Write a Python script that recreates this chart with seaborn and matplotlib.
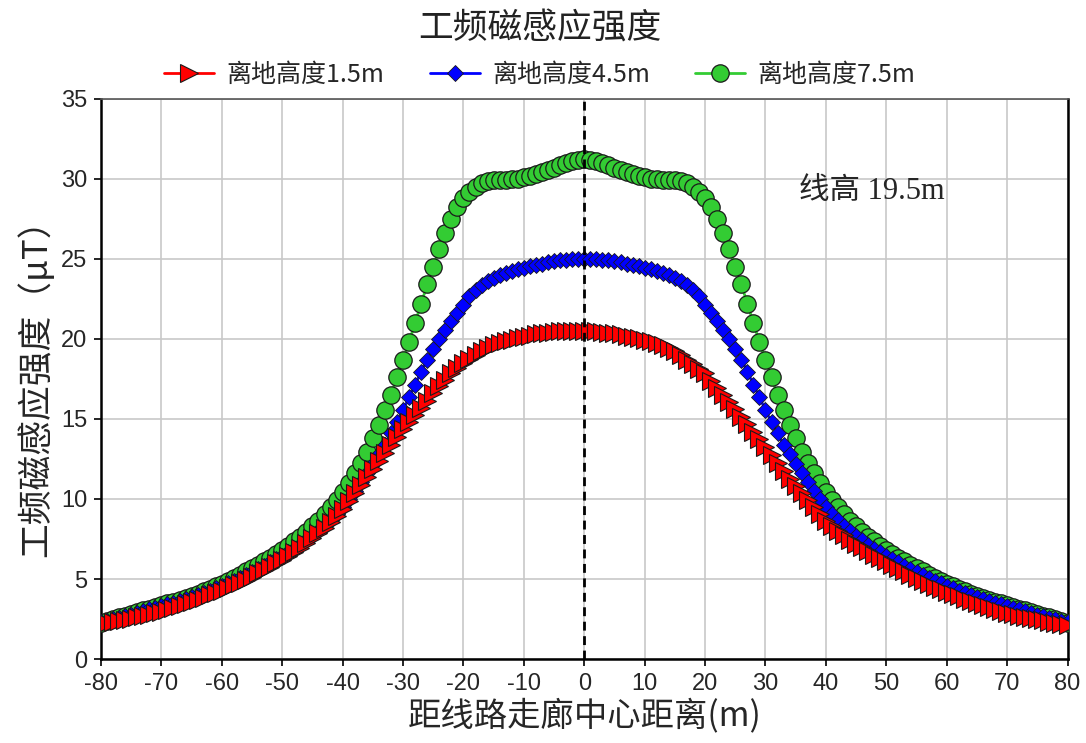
import matplotlib
matplotlib.use("Agg")
import matplotlib.pyplot as plt
import seaborn as sns

# distance from corridor centre (m), one reading per metre
distance = list(range(-80, 81))

# height 1.5 m
b_15 = [
    2.2, 2.26, 2.32, 2.39, 2.46, 2.53, 2.61, 2.69, 2.78, 2.87,
    2.97, 3.08, 3.19, 3.31, 3.43, 3.56, 3.69, 3.83, 3.97, 4.12,
    4.27, 4.43, 4.6, 4.78, 4.96, 5.15, 5.35, 5.55, 5.76, 5.98,
    6.2, 6.45, 6.7, 6.95, 7.25, 7.55, 7.85, 8.2, 8.55, 8.95,
    9.4, 9.85, 10.35, 10.85, 11.35, 11.85, 12.35, 12.85, 13.35, 13.85,
    14.35, 14.8, 15.25, 15.7, 16.15, 16.6, 17.05, 17.45, 17.85, 18.2,
    18.5, 18.75, 18.98, 19.22, 19.42, 19.6, 19.72, 19.84, 19.95, 20.04,
    20.12, 20.2, 20.28, 20.35, 20.4, 20.45, 20.48, 20.5, 20.52, 20.52,
    20.5, 20.5, 20.48, 20.45, 20.4, 20.35, 20.28, 20.2, 20.12, 20.04,
    19.95, 19.84, 19.72, 19.6, 19.42, 19.22, 18.98, 18.7, 18.42, 18.14,
    17.85, 17.4, 16.95, 16.5, 16.05, 15.6, 15.14, 14.67, 14.2, 13.73,
    13.25, 12.75, 12.25, 11.76, 11.27, 10.8, 10.35, 9.92, 9.48, 9.06,
    8.65, 8.33, 8.02, 7.74, 7.46, 7.2, 6.97, 6.74, 6.52, 6.31,
    6.1, 5.89, 5.68, 5.47, 5.26, 5.05, 4.87, 4.7, 4.53, 4.36,
    4.2, 4.05, 3.91, 3.77, 3.63, 3.5, 3.38, 3.26, 3.14, 3.02,
    2.9, 2.81, 2.72, 2.63, 2.55, 2.48, 2.41, 2.34, 2.27, 2.21,
    2.15,
]

# height 4.5 m
b_45 = [
    2.3, 2.39, 2.48, 2.58, 2.68, 2.78, 2.88, 2.99, 3.1, 3.2,
    3.3, 3.41, 3.52, 3.64, 3.76, 3.88, 4.0, 4.13, 4.27, 4.41,
    4.55, 4.72, 4.9, 5.09, 5.27, 5.45, 5.64, 5.84, 6.04, 6.24,
    6.45, 6.67, 6.9, 7.15, 7.42, 7.7, 8.0, 8.34, 8.7, 9.07,
    9.5, 10.0, 10.5, 11.05, 11.6, 12.2, 12.8, 13.4, 14.1, 14.8,
    15.55, 16.35, 17.15, 17.95, 18.7, 19.35, 19.98, 20.55, 21.1, 21.65,
    22.15, 22.65, 23.05, 23.38, 23.62, 23.82, 23.98, 24.12, 24.25, 24.35,
    24.45, 24.54, 24.62, 24.7, 24.78, 24.85, 24.9, 24.95, 24.98, 25.0,
    25.0, 25.0, 24.98, 24.95, 24.9, 24.85, 24.78, 24.7, 24.62, 24.54,
    24.45, 24.35, 24.25, 24.12, 23.98, 23.82, 23.62, 23.38, 23.05, 22.65,
    22.15, 21.65, 21.1, 20.55, 19.98, 19.35, 18.7, 17.95, 17.15, 16.35,
    15.55, 14.8, 14.1, 13.4, 12.8, 12.2, 11.6, 11.05, 10.5, 10.0,
    9.5, 9.07, 8.7, 8.34, 8.0, 7.7, 7.42, 7.15, 6.9, 6.67,
    6.45, 6.24, 6.04, 5.84, 5.64, 5.45, 5.27, 5.09, 4.9, 4.72,
    4.55, 4.41, 4.27, 4.13, 4.0, 3.88, 3.76, 3.64, 3.52, 3.41,
    3.3, 3.2, 3.1, 2.99, 2.88, 2.78, 2.68, 2.58, 2.48, 2.39,
    2.3,
]

# height 7.5 m
b_75 = [
    2.25, 2.38, 2.5, 2.6, 2.7, 2.8, 2.92, 3.04, 3.15, 3.26,
    3.37, 3.48, 3.59, 3.71, 3.83, 3.95, 4.09, 4.24, 4.39, 4.54,
    4.7, 4.88, 5.06, 5.28, 5.47, 5.67, 5.88, 6.1, 6.33, 6.56,
    6.8, 7.05, 7.35, 7.65, 7.95, 8.3, 8.65, 9.05, 9.5, 9.95,
    10.45, 11.0, 11.6, 12.25, 12.95, 13.8, 14.65, 15.55, 16.5, 17.6,
    18.7, 19.8, 21.0, 22.2, 23.4, 24.5, 25.6, 26.6, 27.5, 28.25,
    28.8, 29.2, 29.5, 29.75, 29.88, 29.9, 29.9, 29.93, 29.97, 30.02,
    30.1, 30.2, 30.3, 30.4, 30.55, 30.7, 30.85, 31.0, 31.1, 31.2,
    31.25, 31.2, 31.1, 31.0, 30.85, 30.7, 30.55, 30.4, 30.3, 30.2,
    30.1, 30.02, 29.97, 29.93, 29.9, 29.9, 29.88, 29.75, 29.5, 29.2,
    28.8, 28.25, 27.5, 26.6, 25.6, 24.5, 23.4, 22.2, 21.0, 19.8,
    18.7, 17.6, 16.5, 15.55, 14.65, 13.8, 12.95, 12.25, 11.6, 11.0,
    10.45, 9.95, 9.5, 9.05, 8.65, 8.3, 7.95, 7.65, 7.35, 7.05,
    6.8, 6.56, 6.33, 6.1, 5.88, 5.67, 5.47, 5.28, 5.06, 4.88,
    4.7, 4.54, 4.39, 4.24, 4.09, 3.95, 3.83, 3.71, 3.59, 3.48,
    3.37, 3.26, 3.15, 3.04, 2.92, 2.8, 2.7, 2.6, 2.5, 2.38,
    2.25,
]

series_labels = ["离地高度1.5m", "离地高度4.5m", "离地高度7.5m"]
x_ticks = list(range(-80, 81, 10))
y_ticks = list(range(0, 36, 5))

sns.set_theme(style="whitegrid")
plt.rcParams["font.family"] = ["Liberation Sans", "Noto Sans CJK SC", "DejaVu Sans"]
plt.rcParams["axes.unicode_minus"] = False
cjk = ["Noto Sans CJK SC", "DejaVu Sans"]

fig = plt.figure(figsize=(10.86, 7.43), dpi=100)
ax = fig.add_axes([0.093, 0.113, 0.890, 0.754])

# green first so red ends up on top, as in the original
sns.lineplot(x=distance, y=b_75, ax=ax, color="#33cc33", marker="o", markersize=12.5,
             markeredgecolor="#1a1a1a", markeredgewidth=0.9, linewidth=2, zorder=3,
             label=series_labels[2])
sns.lineplot(x=distance, y=b_45, ax=ax, color="#0000ff", marker="D", markersize=8.5,
             markeredgecolor="#1a1a1a", markeredgewidth=0.6, linewidth=2, zorder=4,
             label=series_labels[1])
sns.lineplot(x=distance, y=b_15, ax=ax, color="#ff0000", marker=">", markersize=12.5,
             markeredgecolor="#1a1a1a", markeredgewidth=0.8, linewidth=2, zorder=5,
             label=series_labels[0])

ax.axvline(0, color="black", linestyle=(0, (3.2, 2.0)), linewidth=2, zorder=6)

ax.set_xlim(-80, 80)
ax.set_ylim(0, 35)
ax.set_xticks(x_ticks)
ax.set_yticks(y_ticks)
ax.tick_params(axis="both", labelsize=17, length=5, width=1.2, color="black",
               direction="out", pad=5, bottom=True, left=True)
ax.grid(True, color="#c8c8c8", linewidth=1.2)
ax.set_facecolor("white")
for side in ["left", "bottom", "right"]:
    ax.spines[side].set_color("black")
    ax.spines[side].set_linewidth(1.8)
ax.spines["top"].set_color("#555555")
ax.spines["top"].set_linewidth(1.2)

ax.set_xlabel("距线路走廊中心距离(m)", fontsize=24, family=cjk, labelpad=3)
ax.set_ylabel("工频磁感应强度（μT）", fontsize=25, family=cjk, labelpad=5)

ax.text(35.6, 29.2, "线高 19.5m", fontsize=22, va="center", ha="left",
        family=["Liberation Serif", "Noto Sans CJK SC"], zorder=7)

fig.text(0.497, 0.961, "工频磁感应强度", fontsize=25, ha="center", va="center",
         family=cjk, color="#222222")

handles, labels = ax.get_legend_handles_labels()
ax.get_legend().remove()
order = [2, 1, 0]
fig.legend([handles[i] for i in order], [labels[i] for i in order],
           loc="center", bbox_to_anchor=(0.497, 0.899), ncol=3, frameon=False,
           prop={"family": cjk, "size": 18}, handlelength=2.0,
           columnspacing=1.8, handletextpad=0.5)

fig.savefig("out.png", dpi=100)
